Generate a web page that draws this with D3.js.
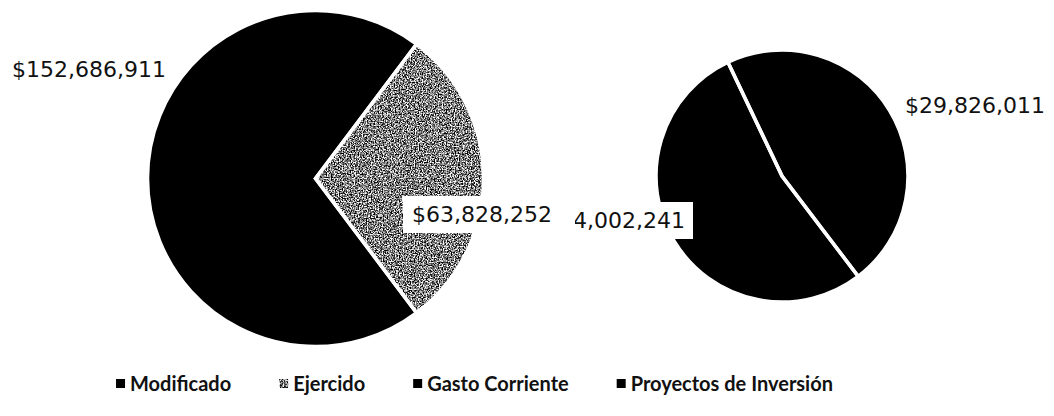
<!DOCTYPE html>
<html>
<head>
<meta charset="utf-8">
<script src="https://cdn.jsdelivr.net/npm/d3@7"></script>
<style>
    body { margin: 0; background: #fff; }
    svg { display: block; }
</style>
</head>
<body>
<svg id="chart" width="1054" height="416"></svg>
<script>
// Data
const mainCategories = ['Modificado', 'Ejercido'];
const mainValues = [152686911, 63828252];
const subCategories = ['Gasto Corriente', 'Proyectos de Inversión'];
const subValues = [34002241, 29826011];
const legendLabels = ['Modificado', 'Ejercido', 'Gasto Corriente', 'Proyectos de Inversión'];

const svg = d3.select('#chart');
const width = +svg.attr('width');
const height = +svg.attr('height');

const fmt = d3.format('$,');
const deg = Math.PI / 180;

// Speckled grey texture (scanned look) for "Ejercido"
const defs = svg.append('defs');
const f = defs.append('filter')
    .attr('id', 'speckle')
    .attr('filterUnits', 'userSpaceOnUse')
    .attr('x', -width).attr('y', -height)
    .attr('width', 3 * width).attr('height', 3 * height)
    .attr('color-interpolation-filters', 'sRGB');
f.append('feTurbulence')
    .attr('type', 'fractalNoise')
    .attr('baseFrequency', 0.75)
    .attr('numOctaves', 2)
    .attr('seed', 7)
    .attr('result', 'noise');
const opaque = f.append('feComponentTransfer').attr('in', 'noise').attr('result', 'noiseA');
opaque.append('feFuncA').attr('type', 'linear').attr('slope', 0).attr('intercept', 1);
f.append('feColorMatrix').attr('in', 'noiseA').attr('type', 'saturate').attr('values', 0).attr('result', 'grey');
const contrast = f.append('feComponentTransfer').attr('in', 'grey').attr('result', 'bw');
['feFuncR', 'feFuncG', 'feFuncB'].forEach(c =>
    contrast.append(c).attr('type', 'linear').attr('slope', 4).attr('intercept', -1.5));
f.append('feComposite').attr('in', 'bw').attr('in2', 'SourceGraphic').attr('operator', 'in');

const fills = {
    'Modificado': '#000',
    'Ejercido': '#777',
    'Gasto Corriente': '#000',
    'Proyectos de Inversión': '#000'
};

// Pie geometry
const main = {cx: 315.5, cy: 178.5, r: 168};
const sub = {cx: 782, cy: 176, r: 126};

// Main pie: the secondary slice is centred on the right side
const ejAngle = 2 * Math.PI * mainValues[1] / d3.sum(mainValues);
const mainStart = Math.PI / 2 + ejAngle / 2;
const mainPie = d3.pie().sort(null)
    .startAngle(mainStart).endAngle(mainStart + 2 * Math.PI);
const subStart = 142.8 * deg;
const subPie = d3.pie().sort(null)
    .startAngle(subStart).endAngle(subStart + 2 * Math.PI);

const mainData = mainPie(mainValues).map((d, i) => ({...d, cat: mainCategories[i]}));
const subData = subPie(subValues).map((d, i) => ({...d, cat: subCategories[i]}));

function drawPie(data, geo) {
    const arc = d3.arc().innerRadius(0).outerRadius(geo.r);
    const g = svg.append('g')
        .attr('transform', `translate(${geo.cx},${geo.cy})`);
    g.selectAll('path.fill').data(data).enter().append('path')
        .attr('class', 'fill')
        .attr('d', arc)
        .attr('fill', d => fills[d.cat])
        .attr('filter', d => d.cat === 'Ejercido' ? 'url(#speckle)' : null);
    // white separators
    g.selectAll('path.sep').data(data).enter().append('path')
        .attr('class', 'sep')
        .attr('d', arc)
        .attr('fill', 'none')
        .style('stroke', '#fff')
        .style('stroke-width', 3.5)
        .style('stroke-linejoin', 'miter');
    return g;
}

drawPie(mainData, main);
drawPie(subData, sub);

// Data labels (offsets relative to each pie's centre)
const labelFont = '"DejaVu Sans", sans-serif';
const labels = [
    {value: subValues[0], geo: sub, dx: -97, dy: 52, anchor: 'end', box: [9, 8]},
    {value: mainValues[1], geo: main, dx: 96.5, dy: 43.5, anchor: 'start', box: [9, 23]},
    {value: mainValues[0], geo: main, dx: -303.5, dy: -101.5, anchor: 'start', box: null},
    {value: subValues[1], geo: sub, dx: 123, dy: -63, anchor: 'start', box: null}
];

labels.forEach(l => {
    const g = svg.append('g');
    const t = g.append('text')
        .attr('x', l.geo.cx + l.dx)
        .attr('y', l.geo.cy + l.dy)
        .attr('text-anchor', l.anchor)
        .style('font-family', labelFont)
        .style('font-size', '22px')
        .style('fill', '#111')
        .text(fmt(l.value));
    if (l.box) {
        const b = t.node().getBBox();
        g.insert('rect', 'text')
            .attr('x', b.x - l.box[0])
            .attr('y', b.y - 6)
            .attr('width', b.width + l.box[0] + l.box[1])
            .attr('height', b.height + 12)
            .attr('fill', '#fff');
    }
});

// Legend
const legend = svg.append('g');
const itemGap = 48;
let lx = 0;
legendLabels.forEach(name => {
    const item = legend.append('g').attr('transform', `translate(${lx},0)`);
    item.append('rect')
        .attr('x', 0).attr('y', -12)
        .attr('width', 9).attr('height', 9)
        .attr('fill', name === 'Ejercido' ? '#ccc' : fills[name])
        .attr('filter', name === 'Ejercido' ? 'url(#speckle)' : null);
    const t = item.append('text')
        .attr('x', 14).attr('y', 0)
        .style('font-family', 'Lato, sans-serif')
        .style('font-weight', 'bold')
        .style('font-size', '20px')
        .style('fill', '#111')
        .text(name);
    lx += 14 + t.node().getComputedTextLength() + itemGap;
});
const legendWidth = lx - itemGap;
legend.attr('transform', `translate(${474.5 - legendWidth / 2},391)`);
</script>
</body>
</html>
